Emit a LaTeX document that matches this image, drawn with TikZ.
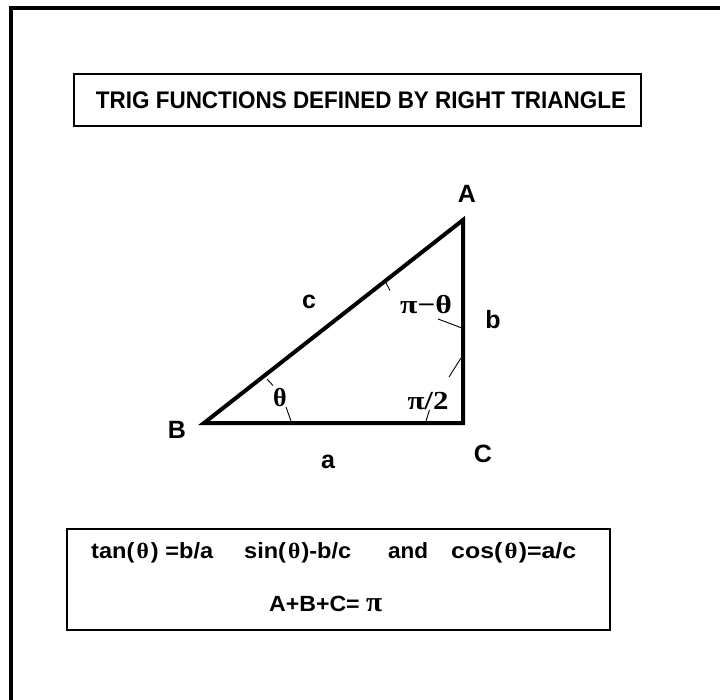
\documentclass[tikz,border=0pt]{standalone}
\usepackage{fontspec}
\setmainfont{Liberation Sans}
\newfontfamily\grk{Liberation Serif}
\begin{document}
\begin{tikzpicture}[x=1pt,y=-1pt,
  frame/.style={line width=4.5pt},
  boxed/.style={draw, line width=1.6pt, inner sep=0pt, anchor=north west},
  tri/.style={line width=4pt, line join=miter},
  tick/.style={line width=0.9pt},
  lab/.style={font=\fontsize{25}{28}\selectfont\bfseries, inner sep=0pt},
  ang/.style={font=\grk\fontsize{26}{28}\selectfont\bfseries, inner sep=0pt},
  eq/.style={font=\fontsize{22}{26}\selectfont\bfseries, inner sep=0pt, anchor=base west},
]
\useasboundingbox[fill=white] (0,0) rectangle (720,700);
% outer frame (only top and left edges visible)
\coordinate (fb) at (11,700);
\coordinate (fc) at (11,8);
\coordinate (fr) at (720,8);
\draw[frame] (fb) -- (fc) -- (fr);
% title box
\node[boxed, minimum width=567pt, minimum height=52pt] (titlebox) at (73,73) {};
\node[inner sep=0pt, font=\fontsize{24}{28}\selectfont\bfseries] (title) at (361,100)
  {\resizebox{530pt}{\height}{TRIG FUNCTIONS DEFINED BY RIGHT TRIANGLE}};
% triangle
\coordinate (B) at (204,423);
\coordinate (C) at (463,423);
\coordinate (A) at (463,220);
\draw[tri] (B) -- (C) -- (A) -- cycle;
% vertex and side labels
\node[lab] (lA) at (467,194) {A};
\node[lab] (lB) at (177,430) {B};
\node[lab] (lC) at (483,454) {C};
\node[lab] (la) at (328,462) {a};
\node[lab] (lb) at (493,320) {b};
\node[lab] (lc) at (309,302) {c};
% angle labels
\node[ang] (tB) at (280,398) {θ};
\node[ang] (tA) at (426,305) {\resizebox{52pt}{\height}{π−θ}};
\node[ang] (tC) at (428,401) {\resizebox{41pt}{\height}{π/2}};
% angle ticks
\coordinate (b1) at (267,379); \coordinate (b2) at (273,385.5);
\coordinate (b3) at (286,407); \coordinate (b4) at (291,421);
\coordinate (a1) at (385.5,282); \coordinate (a2) at (390,290.5);
\coordinate (a3) at (438,319); \coordinate (a4) at (462,328);
\coordinate (c1) at (461,358); \coordinate (c2) at (449,377);
\coordinate (c3) at (429.5,410); \coordinate (c4) at (426,421);
\draw[tick] (b1) -- (b2);
\draw[tick] (b3) -- (b4);
\draw[tick] (a1) -- (a2);
\draw[tick] (a3) -- (a4);
\draw[tick] (c1) -- (c2);
\draw[tick] (c3) -- (c4);
% formula box
\node[boxed, minimum width=543pt, minimum height=101pt] (eqbox) at (66,528) {};
\node[eq] (e1) at (91,558) {\resizebox{122pt}{\height}{tan(\hspace{2pt}{\grk θ}\hspace{2pt}) =b/a}};
\node[eq] (e2) at (244,558) {\resizebox{107pt}{\height}{sin(\hspace{2pt}{\grk θ}\hspace{1pt})-b/c}};
\node[eq] (e3) at (388,558) {\resizebox{40pt}{\height}{and}};
\node[eq] (e4) at (451,558) {\resizebox{125pt}{\height}{cos(\hspace{2pt}{\grk θ}\hspace{1pt})=a/c}};
\node[eq] (e5) at (269,611) {\resizebox{113pt}{\height}{A+B+C= {\grk\fontsize{28}{30}\selectfont π}}};
\end{tikzpicture}
\end{document}
